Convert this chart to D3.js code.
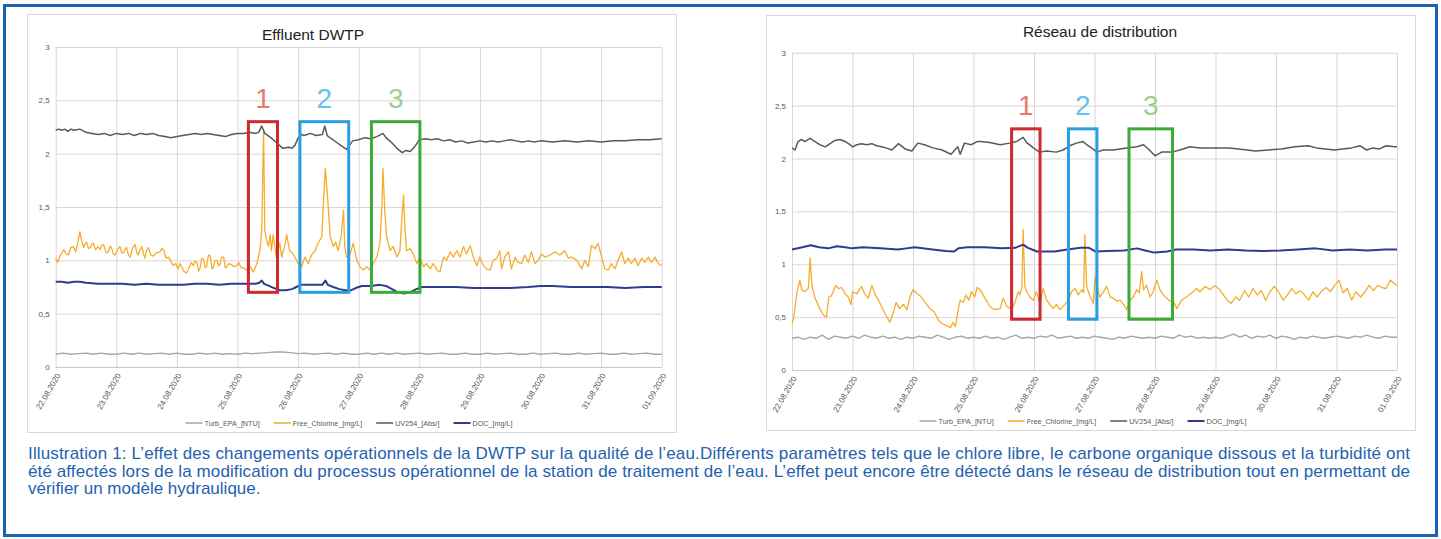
<!DOCTYPE html>
<html>
<head>
<meta charset="utf-8">
<script src="https://cdn.jsdelivr.net/npm/d3@7"></script>
<style>
body { margin: 0; background: #fff; }
svg { display: block; font-family: "Liberation Sans", Arial, sans-serif; }
</style>
</head>
<body>
<svg id="fig" width="1441" height="539"></svg>
<script>
// tick labels (x = days since 22.08.2020)
var dateLabels = ["22.08.2020", "23.08.2020", "24.08.2020", "25.08.2020", "26.08.2020", "27.08.2020",
    "28.08.2020", "29.08.2020", "30.08.2020", "31.08.2020", "01.09.2020"]
var yTicks = [0, 0.5, 1, 1.5, 2, 2.5, 3]
var yTickLabels = ["0", "0,5", "1", "1,5", "2", "2,5", "3"]

var seriesNames = ["Turb_EPA_[NTU]", "Free_Chlorine_[mg/L]", "UV254_[Abs/]", "DOC_[mg/L]"]
var seriesColors = ["#a6a6a6", "#f5ad2c", "#595959", "#2f3b8c"]

// ---- Effluent DWTP ----
// turbidity, one value every 3 h
var turbStepEff = 0.125
var effTurb = [0.12, 0.13, 0.12, 0.125, 0.13, 0.12, 0.13, 0.12,
    0.12, 0.13, 0.12, 0.13, 0.12, 0.125, 0.13, 0.12,
    0.13, 0.12, 0.12, 0.13, 0.12, 0.13, 0.12, 0.125,
    0.12, 0.13, 0.125, 0.13, 0.135, 0.14, 0.14, 0.135,
    0.125, 0.13, 0.12, 0.125, 0.13, 0.12, 0.13, 0.12,
    0.12, 0.13, 0.12, 0.13, 0.12, 0.13, 0.12, 0.125,
    0.13, 0.12, 0.125, 0.13, 0.12, 0.12, 0.13, 0.12,
    0.12, 0.13, 0.12, 0.125, 0.13, 0.12, 0.12, 0.13,
    0.12, 0.125, 0.13, 0.12, 0.12, 0.13, 0.12, 0.125,
    0.13, 0.12, 0.12, 0.13, 0.12, 0.125, 0.13, 0.12,
    0.12]

var effChlorine = [[0, 1.02], [0.03, 0.98], [0.07, 1.04], [0.13, 1.10], [0.17, 1.06], [0.21, 1.05], [0.25, 1.12],
    [0.29, 1.13], [0.33, 1.08], [0.37, 1.18], [0.40, 1.27], [0.43, 1.18], [0.46, 1.12], [0.49, 1.16], [0.51, 1.17],
    [0.54, 1.11], [0.57, 1.12], [0.60, 1.15], [0.62, 1.16], [0.66, 1.10], [0.70, 1.13], [0.73, 1.10], [0.76, 1.14],
    [0.79, 1.15], [0.83, 1.07], [0.87, 1.08], [0.90, 1.13], [0.92, 1.12], [0.95, 1.06], [0.98, 1.05], [1.02, 1.10],
    [1.06, 1.13], [1.09, 1.07], [1.12, 1.07], [1.15, 1.11], [1.17, 1.12], [1.20, 1.05], [1.23, 1.03], [1.27, 1.12],
    [1.31, 1.15], [1.34, 1.07], [1.36, 1.05], [1.39, 1.10], [1.42, 1.13], [1.45, 1.06], [1.47, 1.02], [1.50, 1.09],
    [1.53, 1.12], [1.57, 1.05], [1.61, 1.04], [1.66, 1.07], [1.72, 1.08], [1.75, 1.11], [1.78, 1.10], [1.81, 1.04],
    [1.83, 1.02], [1.86, 1.03], [1.89, 1.00], [1.92, 0.97], [1.94, 0.95], [1.98, 0.97], [2.02, 0.92], [2.05, 0.97],
    [2.08, 0.94], [2.11, 0.90], [2.16, 0.88], [2.20, 0.93], [2.24, 0.98], [2.27, 0.95], [2.30, 0.99], [2.33, 0.98],
    [2.36, 0.90], [2.38, 0.92], [2.41, 1.02], [2.44, 1.01], [2.47, 0.93], [2.49, 0.94], [2.52, 1.05], [2.55, 1.04],
    [2.58, 0.92], [2.60, 0.93], [2.63, 1.00], [2.66, 1.00], [2.69, 0.95], [2.71, 0.96], [2.74, 1.03], [2.77, 1.03],
    [2.80, 0.93], [2.82, 0.94], [2.86, 0.97], [2.90, 0.96], [2.94, 0.94], [2.99, 0.95], [3.02, 0.98], [3.06, 0.93],
    [3.10, 0.93], [3.15, 0.91], [3.21, 0.94], [3.26, 0.89], [3.32, 0.97], [3.37, 1.09], [3.40, 1.28], [3.43, 2.22],
    [3.45, 1.28], [3.48, 1.19], [3.51, 1.13], [3.54, 1.24], [3.56, 1.09], [3.59, 1.24], [3.64, 1.03], [3.70, 1.16],
    [3.73, 1.03], [3.78, 1.14], [3.81, 1.24], [3.86, 1.09], [3.92, 1.06], [4.00, 0.97], [4.06, 0.94], [4.11, 1.03],
    [4.17, 0.97], [4.22, 1.05], [4.28, 1.09], [4.33, 1.16], [4.39, 1.22], [4.42, 1.56], [4.45, 1.86], [4.49, 1.56],
    [4.53, 1.22], [4.58, 1.13], [4.62, 1.17], [4.66, 1.09], [4.71, 1.22], [4.75, 1.47], [4.77, 1.13], [4.80, 1.03],
    [4.86, 1.06], [4.91, 1.16], [4.97, 1.00], [5.02, 0.94], [5.08, 0.91], [5.13, 0.94], [5.19, 0.91], [5.24, 0.97],
    [5.30, 1.03], [5.35, 1.16], [5.38, 1.47], [5.40, 1.86], [5.43, 1.47], [5.46, 1.22], [5.52, 1.09], [5.57, 1.13],
    [5.63, 1.03], [5.68, 1.09], [5.71, 1.38], [5.74, 1.61], [5.76, 1.34], [5.79, 1.09], [5.85, 1.11], [5.90, 1.06],
    [5.96, 0.97], [6.01, 1.03], [6.07, 0.94], [6.12, 0.97], [6.18, 0.92], [6.23, 0.97], [6.29, 0.91], [6.34, 0.89],
    [6.40, 1.03], [6.45, 1.00], [6.51, 1.08], [6.56, 1.03], [6.62, 1.09], [6.67, 1.03], [6.73, 1.13], [6.78, 1.06],
    [6.84, 1.14], [6.89, 1.03], [6.95, 0.95], [7.00, 1.03], [7.06, 0.95], [7.11, 0.92], [7.17, 0.91], [7.22, 1.00],
    [7.28, 1.02], [7.33, 1.09], [7.36, 0.92], [7.41, 1.03], [7.47, 1.08], [7.52, 0.92], [7.58, 1.03], [7.63, 0.98],
    [7.69, 0.97], [7.74, 1.05], [7.80, 0.98], [7.85, 1.08], [7.91, 0.97], [7.96, 1.00], [8.02, 1.06], [8.07, 1.03],
    [8.16, 1.05], [8.24, 1.08], [8.32, 1.05], [8.40, 1.09], [8.46, 1.02], [8.51, 1.03], [8.60, 1.00], [8.68, 0.92],
    [8.73, 1.00], [8.79, 0.94], [8.84, 1.14], [8.90, 1.11], [8.95, 1.16], [9.01, 1.03], [9.06, 0.92], [9.12, 0.91],
    [9.17, 0.97], [9.23, 0.92], [9.28, 1.00], [9.34, 1.08], [9.39, 0.97], [9.45, 1.02], [9.50, 0.97], [9.56, 1.02],
    [9.61, 0.95], [9.67, 1.02], [9.72, 0.98], [9.78, 1.03], [9.83, 0.98], [9.89, 1.03], [9.94, 0.97], [10, 0.95]]

var effUV = [[0, 2.22], [0.05, 2.23], [0.1, 2.22], [0.15, 2.23], [0.2, 2.21], [0.25, 2.23], [0.3, 2.22], [0.4, 2.23],
    [0.5, 2.20], [0.6, 2.19], [0.7, 2.18], [0.8, 2.19], [0.9, 2.17], [1.0, 2.19], [1.1, 2.18], [1.2, 2.19],
    [1.3, 2.17], [1.4, 2.19], [1.5, 2.18], [1.6, 2.19], [1.7, 2.17], [1.8, 2.16], [1.9, 2.15], [2.0, 2.16],
    [2.1, 2.17], [2.2, 2.18], [2.3, 2.19], [2.4, 2.18], [2.5, 2.19], [2.6, 2.18], [2.7, 2.17], [2.8, 2.16],
    [2.9, 2.18], [3.0, 2.19], [3.1, 2.19], [3.2, 2.20], [3.3, 2.19], [3.35, 2.20], [3.40, 2.26], [3.45, 2.19],
    [3.55, 2.15], [3.65, 2.10], [3.75, 2.05], [3.85, 2.06], [3.9, 2.05], [3.95, 2.08], [4.0, 2.15], [4.05, 2.18],
    [4.1, 2.17], [4.2, 2.19], [4.3, 2.17], [4.4, 2.18], [4.44, 2.26], [4.48, 2.17], [4.55, 2.14], [4.65, 2.10],
    [4.72, 2.07], [4.8, 2.04], [4.85, 2.08], [4.9, 2.12], [5.0, 2.13], [5.1, 2.15], [5.2, 2.14], [5.3, 2.16],
    [5.4, 2.19], [5.45, 2.15], [5.55, 2.10], [5.65, 2.04], [5.72, 2.01], [5.78, 2.03], [5.85, 2.02], [5.93, 2.07],
    [6.0, 2.13], [6.1, 2.14], [6.2, 2.13], [6.3, 2.14], [6.4, 2.12], [6.5, 2.13], [6.6, 2.11], [6.7, 2.12],
    [6.8, 2.10], [6.9, 2.11], [7.0, 2.12], [7.1, 2.11], [7.2, 2.12], [7.3, 2.11], [7.4, 2.12], [7.5, 2.13],
    [7.6, 2.12], [7.7, 2.11], [7.8, 2.12], [7.9, 2.11], [8.0, 2.12], [8.2, 2.11], [8.4, 2.12], [8.6, 2.11],
    [8.8, 2.12], [9.0, 2.11], [9.2, 2.12], [9.4, 2.12], [9.6, 2.13], [9.8, 2.13], [10, 2.14]]

var effDOC = [[0, 0.80], [0.1, 0.80], [0.2, 0.79], [0.3, 0.80], [0.4, 0.80], [0.5, 0.79], [0.7, 0.78], [0.9, 0.78],
    [1.1, 0.78], [1.3, 0.77], [1.5, 0.78], [1.7, 0.77], [1.9, 0.77], [2.1, 0.77], [2.3, 0.78], [2.5, 0.78],
    [2.7, 0.77], [2.9, 0.78], [3.1, 0.78], [3.3, 0.78], [3.36, 0.79], [3.40, 0.81], [3.44, 0.78], [3.52, 0.76],
    [3.6, 0.74], [3.7, 0.72], [3.8, 0.72], [3.9, 0.73], [3.97, 0.75], [4.05, 0.77], [4.15, 0.77], [4.3, 0.77],
    [4.4, 0.77], [4.45, 0.81], [4.49, 0.77], [4.58, 0.75], [4.68, 0.73], [4.78, 0.72], [4.88, 0.72], [4.95, 0.74],
    [5.05, 0.76], [5.2, 0.76], [5.35, 0.77], [5.45, 0.76], [5.55, 0.73], [5.65, 0.70], [5.75, 0.69], [5.85, 0.70],
    [5.95, 0.73], [6.05, 0.75], [6.3, 0.75], [6.6, 0.75], [6.9, 0.74], [7.2, 0.74], [7.5, 0.74], [7.8, 0.75],
    [8.0, 0.76], [8.2, 0.76], [8.5, 0.75], [8.8, 0.75], [9.1, 0.75], [9.4, 0.74], [9.7, 0.75], [10, 0.75]]

// ---- Réseau de distribution ----
// turbidity, one value every 2.4 h
var turbStepNet = 0.1
var netTurb = [0.30, 0.31, 0.29, 0.31, 0.30, 0.33, 0.29, 0.32, 0.31, 0.30,
    0.32, 0.30, 0.33, 0.31, 0.30, 0.32, 0.30, 0.31, 0.29, 0.31,
    0.30, 0.32, 0.31, 0.30, 0.33, 0.31, 0.29, 0.31, 0.32, 0.30,
    0.31, 0.30, 0.32, 0.30, 0.31, 0.29, 0.31, 0.33, 0.30, 0.31,
    0.30, 0.32, 0.31, 0.33, 0.30, 0.31, 0.32, 0.30, 0.31, 0.30,
    0.32, 0.31, 0.30, 0.29, 0.31, 0.30, 0.32, 0.31, 0.30, 0.31,
    0.30, 0.32, 0.31, 0.30, 0.33, 0.31, 0.32, 0.30, 0.31, 0.30,
    0.31, 0.30, 0.32, 0.34, 0.31, 0.33, 0.30, 0.32, 0.31, 0.33,
    0.30, 0.32, 0.31, 0.29, 0.31, 0.30, 0.32, 0.31, 0.30, 0.31,
    0.32, 0.31, 0.30, 0.32, 0.31, 0.33, 0.31, 0.30, 0.32, 0.31,
    0.31]

var netChlorine = [[0, 0.44], [0.03, 0.50], [0.08, 0.73], [0.13, 0.85], [0.16, 0.76], [0.21, 0.74], [0.27, 0.77],
    [0.30, 1.06], [0.33, 0.79], [0.38, 0.68], [0.46, 0.58], [0.52, 0.52], [0.57, 0.50], [0.61, 0.69], [0.65, 0.70],
    [0.72, 0.80], [0.77, 0.77], [0.82, 0.78], [0.88, 0.72], [0.93, 0.69], [0.975, 0.62], [1.0, 0.74], [1.07, 0.72],
    [1.15, 0.79], [1.21, 0.71], [1.26, 0.68], [1.32, 0.80], [1.37, 0.72], [1.43, 0.66], [1.48, 0.60], [1.55, 0.52],
    [1.62, 0.45], [1.68, 0.55], [1.72, 0.64], [1.78, 0.58], [1.84, 0.62], [1.90, 0.57], [1.95, 0.69], [2.0, 0.76],
    [2.05, 0.73], [2.12, 0.70], [2.2, 0.64], [2.28, 0.58], [2.35, 0.55], [2.42, 0.47], [2.48, 0.44], [2.55, 0.42],
    [2.62, 0.40], [2.66, 0.45], [2.70, 0.41], [2.74, 0.55], [2.78, 0.66], [2.83, 0.64], [2.88, 0.71], [2.92, 0.66],
    [2.97, 0.74], [3.02, 0.69], [3.06, 0.78], [3.11, 0.76], [3.19, 0.68], [3.27, 0.60], [3.35, 0.57], [3.44, 0.58],
    [3.49, 0.68], [3.55, 0.60], [3.63, 0.58], [3.68, 0.63], [3.74, 0.74], [3.77, 0.71], [3.80, 0.79], [3.82, 1.33],
    [3.85, 0.79], [3.88, 0.74], [3.93, 0.69], [3.99, 0.66], [4.04, 0.74], [4.10, 0.63], [4.15, 0.77], [4.21, 0.66],
    [4.26, 0.62], [4.32, 0.58], [4.37, 0.62], [4.43, 0.57], [4.51, 0.62], [4.57, 0.66], [4.62, 0.74], [4.68, 0.77],
    [4.73, 0.71], [4.79, 0.76], [4.82, 0.73], [4.84, 1.28], [4.87, 0.79], [4.93, 0.69], [4.98, 0.63], [5.01, 0.88],
    [5.04, 0.79], [5.09, 0.69], [5.15, 0.74], [5.20, 0.79], [5.26, 0.69], [5.31, 0.68], [5.37, 0.65], [5.42, 0.66],
    [5.48, 0.62], [5.53, 0.57], [5.59, 0.66], [5.64, 0.69], [5.70, 0.76], [5.74, 0.73], [5.78, 0.93], [5.81, 0.76],
    [5.86, 0.80], [5.92, 0.69], [5.97, 0.74], [6.03, 0.85], [6.08, 0.76], [6.14, 0.71], [6.19, 0.68], [6.25, 0.65],
    [6.30, 0.66], [6.36, 0.58], [6.44, 0.66], [6.52, 0.69], [6.61, 0.73], [6.69, 0.77], [6.74, 0.74], [6.83, 0.79],
    [6.91, 0.76], [6.99, 0.80], [7.07, 0.76], [7.12, 0.72], [7.19, 0.66], [7.26, 0.63], [7.33, 0.69], [7.40, 0.66],
    [7.48, 0.75], [7.55, 0.69], [7.62, 0.77], [7.69, 0.71], [7.76, 0.75], [7.83, 0.66], [7.90, 0.74], [7.97, 0.79],
    [8.04, 0.74], [8.12, 0.66], [8.19, 0.71], [8.26, 0.77], [8.33, 0.72], [8.40, 0.75], [8.47, 0.71], [8.54, 0.66],
    [8.61, 0.74], [8.68, 0.69], [8.76, 0.75], [8.83, 0.78], [8.90, 0.74], [8.97, 0.80], [9.04, 0.85], [9.11, 0.73],
    [9.18, 0.77], [9.25, 0.66], [9.32, 0.74], [9.40, 0.69], [9.47, 0.74], [9.54, 0.80], [9.61, 0.75], [9.68, 0.80],
    [9.75, 0.78], [9.82, 0.77], [9.89, 0.85], [9.95, 0.82], [10, 0.80]]

var netUV = [[0, 2.10], [0.05, 2.08], [0.10, 2.16], [0.16, 2.18], [0.21, 2.16], [0.30, 2.19], [0.38, 2.16], [0.46, 2.13],
    [0.55, 2.11], [0.63, 2.14], [0.71, 2.17], [0.79, 2.18], [0.88, 2.16], [0.96, 2.13], [1.0, 2.11], [1.07, 2.13],
    [1.15, 2.14], [1.23, 2.13], [1.32, 2.14], [1.40, 2.12], [1.48, 2.11], [1.55, 2.10], [1.65, 2.08], [1.76, 2.14],
    [1.87, 2.09], [1.98, 2.07], [2.08, 2.145], [2.19, 2.13], [2.33, 2.10], [2.48, 2.08], [2.63, 2.04], [2.74, 2.11],
    [2.78, 2.04], [2.85, 2.145], [2.96, 2.13], [3.06, 2.16], [3.11, 2.16], [3.27, 2.15], [3.44, 2.13], [3.60, 2.145],
    [3.71, 2.16], [3.82, 2.20], [3.88, 2.15], [3.99, 2.10], [4.09, 2.06], [4.21, 2.07], [4.37, 2.06], [4.48, 2.08],
    [4.59, 2.12], [4.70, 2.145], [4.81, 2.16], [4.87, 2.13], [4.95, 2.10], [5.04, 2.06], [5.14, 2.08], [5.31, 2.08],
    [5.53, 2.10], [5.70, 2.11], [5.81, 2.13], [5.89, 2.09], [6.00, 2.025], [6.11, 2.06], [6.28, 2.06], [6.41, 2.08],
    [6.58, 2.11], [6.74, 2.10], [6.91, 2.10], [7.07, 2.10], [7.23, 2.10], [7.38, 2.09], [7.52, 2.08], [7.66, 2.07],
    [7.87, 2.08], [8.09, 2.09], [8.31, 2.11], [8.53, 2.12], [8.67, 2.10], [8.82, 2.09], [8.96, 2.08], [9.10, 2.09],
    [9.25, 2.10], [9.39, 2.12], [9.50, 2.08], [9.60, 2.10], [9.71, 2.09], [9.82, 2.12], [9.96, 2.11], [10, 2.11]]

var netDOC = [[0, 1.14], [0.17, 1.16], [0.31, 1.18], [0.45, 1.16], [0.60, 1.15], [0.74, 1.17], [0.88, 1.16], [0.99, 1.15],
    [1.17, 1.16], [1.46, 1.15], [1.75, 1.14], [1.89, 1.15], [2.03, 1.16], [2.32, 1.14], [2.54, 1.125], [2.68, 1.12],
    [2.75, 1.15], [2.90, 1.16], [3.18, 1.16], [3.47, 1.15], [3.69, 1.155], [3.82, 1.185], [3.90, 1.155], [4.05, 1.12],
    [4.34, 1.12], [4.55, 1.14], [4.77, 1.155], [4.91, 1.155], [5.02, 1.12], [5.20, 1.125], [5.49, 1.13], [5.70, 1.15],
    [5.84, 1.13], [5.99, 1.11], [6.20, 1.12], [6.35, 1.14], [6.64, 1.14], [6.92, 1.13], [7.21, 1.14], [7.50, 1.13],
    [7.79, 1.125], [8.07, 1.13], [8.36, 1.14], [8.65, 1.15], [8.94, 1.13], [9.22, 1.14], [9.51, 1.13], [9.80, 1.14],
    [10, 1.14]]

// highlighted events (day range, value range)
var boxLabels = ["1", "2", "3"]
var boxColors = ["#d0282e", "#2a9fe0", "#3aaa3a"]
var boxTextColors = ["#e8796a", "#66c1ee", "#9bd08b"]
var effBoxes = [[3.18, 3.66, 0.7, 2.3], [4.03, 4.835, 0.7, 2.3], [5.21, 6.01, 0.7, 2.3]]
var netBoxes = [[3.63, 4.10, 0.48, 2.28], [4.57, 5.04, 0.48, 2.28], [5.57, 6.29, 0.48, 2.28]]

var captionLines = [
    "Illustration 1: L’effet des changements opérationnels de la DWTP sur la qualité de l’eau.Différents paramètres tels que le chlore libre, le carbone organique dissous et la turbidité ont",
    "été affectés lors de la modification du processus opérationnel de la station de traitement de l’eau. L’effet peut encore être détecté dans le réseau de distribution tout en permettant de",
    "vérifier un modèle hydraulique."
]

var svg = d3.select("#fig")
var gridColor = "#ddd5d5"

// outer blue frame
svg.append("rect")
    .attr("x", 4.5).attr("y", 5.5).attr("width", 1432).attr("height", 530)
    .attr("fill", "none").attr("stroke", "#1962b8").attr("stroke-width", 3)

function drawChart(opt) {
    var g = svg.append("g")

    g.append("rect")
        .attr("x", opt.panel[0] + 0.5).attr("y", opt.panel[1] + 0.5)
        .attr("width", opt.panel[2]).attr("height", opt.panel[3])
        .attr("fill", "#fff").attr("stroke", "#d9d9d9")

    g.append("text")
        .attr("x", opt.titleX).attr("y", opt.titleY)
        .attr("text-anchor", "middle")
        .attr("font-size", 15.5).attr("fill", "#222")
        .text(opt.title)

    var x = d3.scaleLinear().domain([0, 10]).range([opt.left, opt.right])
    var y = d3.scaleLinear().domain([0, 3]).range([opt.bottom, opt.top])

    // horizontal grid + y labels
    var ya = g.append("g")
        .attr("transform", "translate(" + opt.left + ",0)")
        .call(d3.axisLeft(y).tickValues(yTicks).tickSize(-(opt.right - opt.left)).tickPadding(6)
            .tickFormat(function (d, i) { return yTickLabels[i] }))
    ya.select(".domain").remove()
    ya.selectAll("line").attr("stroke", gridColor)
    ya.selectAll("text").attr("font-size", 8).attr("fill", "#595959").attr("font-family", "Liberation Sans, Arial")

    // vertical grid + date labels
    var xa = g.append("g")
        .attr("transform", "translate(0," + opt.bottom + ")")
        .call(d3.axisBottom(x).tickValues(d3.range(dateLabels.length)).tickSize(-(opt.bottom - opt.top))
            .tickFormat(function (d, i) { return dateLabels[i] }))
    xa.select(".domain").remove()
    xa.selectAll("line").attr("stroke", gridColor)
    xa.selectAll("text")
        .attr("y", 0).attr("dy", "0.35em")
        .attr("text-anchor", "end")
        .attr("transform", "translate(2,7) rotate(-60)")
        .attr("font-size", 8).attr("fill", "#595959").attr("font-family", "Liberation Sans, Arial")

    // x axis line
    g.append("line")
        .attr("x1", opt.left).attr("x2", opt.right)
        .attr("y1", opt.bottom + 0.5).attr("y2", opt.bottom + 0.5)
        .attr("stroke", "#d7c2c2")

    var line = d3.line()
        .x(function (d) { return x(d[0]) })
        .y(function (d) { return y(d[1]) })

    var widths = [1.4, 1.3, 1.5, 2]
    opt.series.forEach(function (s, i) {
        g.append("path")
            .datum(s)
            .attr("d", line)
            .attr("fill", "none")
            .attr("stroke", seriesColors[i])
            .attr("stroke-width", widths[i])
            .attr("stroke-linejoin", "round")
    })

    // event boxes
    opt.boxes.forEach(function (b, i) {
        g.append("rect")
            .attr("x", x(b[0])).attr("y", y(b[3]))
            .attr("width", x(b[1]) - x(b[0])).attr("height", y(b[2]) - y(b[3]))
            .attr("fill", "none").attr("stroke", boxColors[i]).attr("stroke-width", 3)
        g.append("text")
            .attr("x", (x(b[0]) + x(b[1])) / 2).attr("y", y(b[3]) - 14)
            .attr("text-anchor", "middle")
            .attr("font-size", 28).attr("fill", boxTextColors[i])
            .text(boxLabels[i])
    })

    // legend
    var lg = g.append("g").attr("transform", "translate(0," + opt.legendY + ")")
    var cx = 0
    seriesNames.forEach(function (name, i) {
        lg.append("line")
            .attr("x1", cx).attr("x2", cx + 17).attr("y1", 0).attr("y2", 0)
            .attr("stroke", seriesColors[i]).attr("stroke-width", i == 3 ? 2 : 1.5)
        var t = lg.append("text")
            .attr("x", cx + 19).attr("y", 0).attr("dy", "0.35em")
            .attr("font-size", 7.2).attr("fill", "#595959")
            .text(name)
        cx += 19 + t.node().getComputedTextLength() + 14
    })
    cx -= 14
    lg.attr("transform", "translate(" + (opt.legendX - cx / 2) + "," + opt.legendY + ")")
}

drawChart({
    panel: [27, 14, 649, 418],
    title: "Effluent DWTP", titleX: 313, titleY: 40,
    left: 55.7, right: 661.7, top: 47, bottom: 367,
    series: [effTurb.map(function (v, i) { return [i * turbStepEff, v] }), effChlorine, effUV, effDOC],
    boxes: effBoxes,
    legendX: 349, legendY: 423
})

drawChart({
    panel: [766, 15, 649, 415],
    title: "Réseau de distribution", titleX: 1100, titleY: 37,
    left: 792, right: 1397, top: 52.7, bottom: 370,
    series: [netTurb.map(function (v, i) { return [i * turbStepNet, v] }), netChlorine, netUV, netDOC],
    boxes: netBoxes,
    legendX: 1083, legendY: 421
})

// caption
var cap = svg.append("g").attr("fill", "#2461b0").attr("font-size", 17)
cap.selectAll("text")
    .data(captionLines)
    .enter()
    .append("text")
    .attr("x", 28)
    .attr("y", function (d, i) { return 459 + i * 17.5 })
    .attr("textLength", function (d, i) { return i < 2 ? 1382 : null })
    .attr("lengthAdjust", "spacing")
    .text(function (d) { return d })
</script>
</body>
</html>
